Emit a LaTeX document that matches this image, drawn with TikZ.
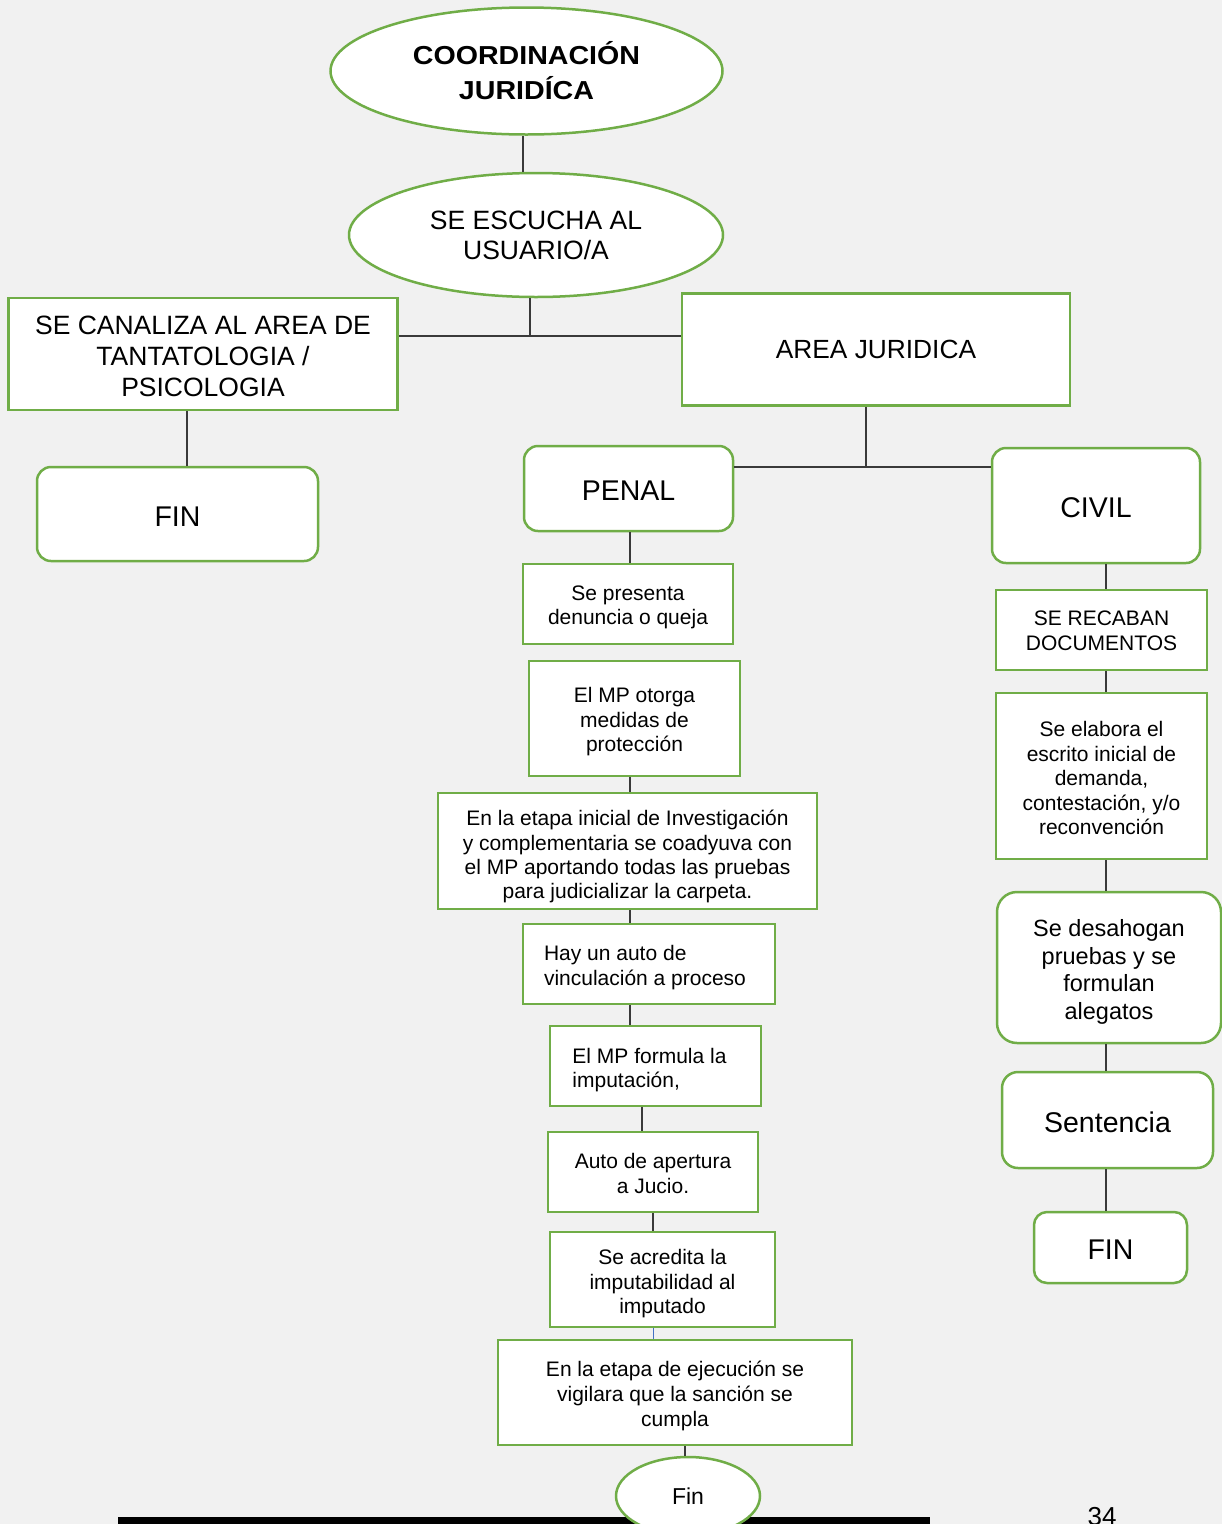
\documentclass[tikz,border=0pt]{standalone}
\usepackage{fontspec}
\usepackage{graphicx}
\setmainfont{Liberation Sans}
\usetikzlibrary{shapes.geometric}
\definecolor{grn}{HTML}{70AD47}
\definecolor{bgc}{HTML}{F1F1F1}
\definecolor{lnk}{HTML}{3A3A3A}
\definecolor{blu}{HTML}{4472C4}
\newcommand{\fs}[2]{\fontsize{#1}{#2}\selectfont}
\newcommand{\wide}[1]{\scalebox{1.1}[1]{#1}}
\newcommand{\sr}[1]{\rule{0pt}{#1pt}}
\tikzset{
  box/.style={draw=grn, line width=2.5pt, fill=white, inner sep=0pt, align=center, font=\fs{21}{24.5}},
  rbox/.style={box, rounded corners=14pt},
  oval/.style={ellipse, draw=grn, line width=2.5pt, fill=white, inner sep=0pt, align=center},
  conn/.style={draw=lnk, line width=1.5pt},
  sh/.style={execute at begin node={\rule{0pt}{#1pt}}},
}
\begin{document}
\begin{tikzpicture}[x=1pt,y=-1pt]
\useasboundingbox (0,0) rectangle (1222,1524);
\clip (0,0) rectangle (1222,1524);
\fill[bgc] (0,0) rectangle (1222,1524);

% bottom bar and page number
\fill[black] (118,1517) rectangle (930,1526);
\node[anchor=north, inner sep=0pt, font=\fs{26}{30}] (pagenum) at (1102,1507) {34};

% top
\node[oval, minimum width=392pt, minimum height=127pt, font=\bfseries\fs{26}{35}] (title) at (526.5,71) {\wide{COORDINACIÓN}\\\wide{JURIDÍCA}};
\node[oval, minimum width=374pt, minimum height=124pt, font=\fs{26.5}{30}] (escucha) at (536,235) {SE ESCUCHA AL\\USUARIO/A};

\node[box, minimum width=389pt, minimum height=112pt, font=\fs{26.5}{31}] (canaliza) at (203,354) {\sr{24}SE CANALIZA AL AREA DE\\TANTATOLOGIA /\\PSICOLOGIA};
\node[box, minimum width=388pt, minimum height=112pt, font=\fs{26.3}{31}] (juridica) at (876,349.5) {AREA JURIDICA};

\node[rbox, sh=24, minimum width=281pt, minimum height=94pt, font=\fs{28.5}{32}] (fin1) at (177.5,514) {FIN};
\node[rbox, sh=24, minimum width=209pt, minimum height=85pt, font=\fs{28.5}{32}] (penal) at (628.5,488.5) {PENAL};
\node[rbox, sh=25, minimum width=208pt, minimum height=115pt, font=\fs{28.5}{32}] (civil) at (1096,505.5) {CIVIL};

% penal chain
\node[box, minimum width=210pt, minimum height=80pt] (presenta) at (628,604) {\sr{21}Se presenta\\denuncia o queja};
\node[box, minimum width=211pt, minimum height=115pt] (otorga) at (634.5,718.5) {\sr{21.5}El MP otorga\\medidas de\\protección};
\node[box, minimum width=379pt, minimum height=116pt, font=\fs{21}{24.3}] (inicial) at (627.5,851) {\sr{27}En la etapa inicial de Investigación\\y complementaria se coadyuva con\\el MP aportando todas las pruebas\\para judicializar la carpeta.};
\node[box, align=left, minimum width=252pt, minimum height=80pt] (vinc) at (649,964) {\sr{22}Hay un auto de\\vinculación a proceso\hspace*{8pt}};
\node[box, align=left, minimum width=211pt, minimum height=80pt] (formula) at (655.5,1066) {\sr{23}El MP formula la\hspace*{12pt}\\imputación,};
\node[box, minimum width=210pt, minimum height=80pt] (apertura) at (653,1172) {\sr{18}Auto de apertura\\a Jucio.};
\node[box, minimum width=225pt, minimum height=95pt] (acredita) at (662.5,1279.5) {\sr{23.5}Se acredita la\\imputabilidad al\\imputado};
\node[box, minimum width=354pt, minimum height=105pt, font=\fs{21}{25}] (ejecucion) at (675,1392.5) {\sr{22}En la etapa de ejecución se\\vigilara que la sanción se\\cumpla};
\node[oval, minimum width=144pt, minimum height=78pt, font=\fs{23}{26}] (fin3) at (688,1496) {Fin};

% civil chain
\node[box, minimum width=211pt, minimum height=80pt, font=\fs{21}{25}] (recaban) at (1101.5,630) {\sr{16.5}SE RECABAN\\DOCUMENTOS};
\node[box, minimum width=211pt, minimum height=166pt, font=\fs{21}{24.5}] (elabora) at (1101.5,776) {\sr{19.5}Se elabora el\\escrito inicial de\\demanda,\\contestación, y/o\\reconvención};
\node[rbox, rounded corners=20pt, minimum width=224pt, minimum height=151pt, font=\fs{23.5}{27.5}] (desahogan) at (1109,967.5) {\sr{25.5}Se desahogan\\pruebas y se\\formulan\\alegatos};
\node[rbox, sh=24.5, rounded corners=16pt, minimum width=211pt, minimum height=96pt, font=\fs{28.5}{32}] (sentencia) at (1107.5,1120) {Sentencia};
\node[rbox, sh=24.5, rounded corners=13pt, minimum width=153pt, minimum height=71pt, font=\fs{28.5}{32}] (fin2) at (1110.5,1247.5) {FIN};

% helper x positions
\coordinate (xa) at (523,0);
\coordinate (xb) at (187,0);
\coordinate (xc) at (630,0);
\coordinate (xd) at (642,0);
\coordinate (xe) at (653,0);
\coordinate (xf) at (685,0);
\coordinate (xg) at (1106,0);
\coordinate (j1) at (530,336);
\coordinate (j2) at (866,467);

% connectors
\draw[conn] (title.south -| xa) -- (escucha.north -| xa);
\draw[conn] (escucha.south -| j1) -- (j1);
\draw[conn] (canaliza.east |- j1) -- (juridica.west |- j1);
\draw[conn] (canaliza.south -| xb) -- (fin1.north -| xb);
\draw[conn] (juridica.south -| j2) -- (j2);
\draw[conn] (penal.east |- j2) -- (civil.west |- j2);
\draw[conn] (penal.south -| xc) -- (presenta.north -| xc);
\draw[conn] (otorga.south -| xc) -- (inicial.north -| xc);
\draw[conn] (inicial.south -| xc) -- (vinc.north -| xc);
\draw[conn] (vinc.south -| xc) -- (formula.north -| xc);
\draw[conn] (formula.south -| xd) -- (apertura.north -| xd);
\draw[conn] (apertura.south -| xe) -- (acredita.north -| xe);
\draw[blu, line width=1pt] (acredita.south -| xe) -- (ejecucion.north -| xe);
\draw[conn] (ejecucion.south -| xf) -- (fin3.north -| xf);
\draw[conn] (civil.south -| xg) -- (recaban.north -| xg);
\draw[conn] (recaban.south -| xg) -- (elabora.north -| xg);
\draw[conn] (elabora.south -| xg) -- (desahogan.north -| xg);
\draw[conn] (desahogan.south -| xg) -- (sentencia.north -| xg);
\draw[conn] (sentencia.south -| xg) -- (fin2.north -| xg);
\end{tikzpicture}
\end{document}
